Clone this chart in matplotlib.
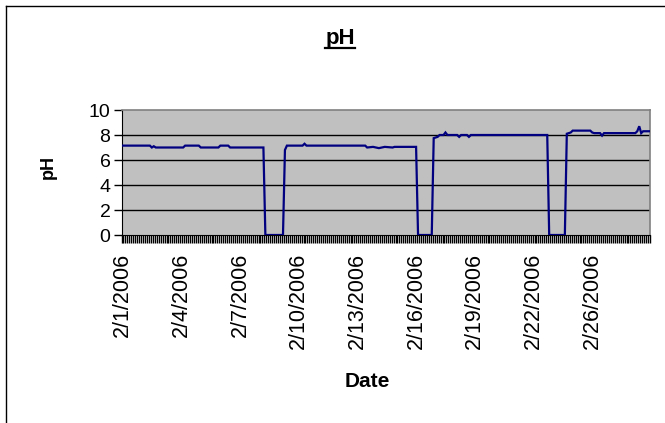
import matplotlib

matplotlib.use("Agg")
import matplotlib.pyplot as plt
from matplotlib.lines import Line2D

# sample index (category position on the date axis) and pH readings at the breakpoints
SAMPLE_IDX = [0, 14, 15, 16, 17, 31, 32, 39, 40, 49, 50, 54, 55, 72, 73, 82, 83, 84,
              92, 93, 94, 124, 125, 128, 131, 134, 138, 139, 150, 151, 158, 159, 161,
              162, 164, 165, 166, 171, 172, 173, 176, 177, 178, 217, 218, 226, 227,
              229, 230, 239, 240, 241, 244, 245, 246, 262, 263, 264, 265, 266, 269]
PH = [7.15, 7.15, 7.0, 7.1, 7.0, 7.0, 7.15, 7.15, 7.0, 7.0, 7.15, 7.15, 7.0, 7.0, 0.0,
      0.0, 6.8, 7.15, 7.15, 7.3, 7.15, 7.15, 7.0, 7.05, 6.95, 7.05, 7.0, 7.05, 7.05,
      0.0, 0.0, 7.75, 7.85, 8.0, 8.0, 8.2, 8.0, 8.0, 7.85, 8.0, 8.0, 7.85, 8.0, 8.0,
      0.0, 0.0, 8.1, 8.2, 8.35, 8.35, 8.2, 8.15, 8.15, 7.95, 8.15, 8.15, 8.3, 8.7,
      8.15, 8.3, 8.3]
N_SAMPLES = 270
LABEL_IDX = [0, 30, 60, 90, 120, 150, 180, 210, 240]
DATE_LABELS = ["2/1/2006", "2/4/2006", "2/7/2006", "2/10/2006", "2/13/2006",
               "2/16/2006", "2/19/2006", "2/22/2006", "2/26/2006"]
Y_TICKS = [0, 2, 4, 6, 8, 10]

plt.rcParams["font.family"] = ["Liberation Sans", "DejaVu Sans"]

W, H = 665, 423
fig = plt.figure(figsize=(W / 100, H / 100), dpi=100)
fig.patch.set_facecolor("white")

# outer chart frame (only left and top edges are visible)
fig.add_artist(Line2D([6 / W, 6 / W], [0, 1 - 6 / H], color="black", lw=1.0))
fig.add_artist(Line2D([6 / W, 1], [1 - 6 / H, 1 - 6 / H], color="black", lw=1.0))

left, right, top, bottom = 121.5, 650, 110, 235
ax = fig.add_axes([left / W, 1 - bottom / H, (right - left) / W, (bottom - top) / H])
ax.set_facecolor("#C0C0C0")

ax.plot(SAMPLE_IDX, PH, color="#000080", lw=1.6, solid_joinstyle="miter", zorder=3)

ax.set_xlim(-0.5, N_SAMPLES - 0.5)
ax.set_ylim(0, 10)
ax.set_yticks(Y_TICKS)
for y in Y_TICKS[1:-1]:
    ax.axhline(y, color="black", lw=1.0, zorder=1)

ax.set_xticks(LABEL_IDX)
ax.set_xticklabels(DATE_LABELS, rotation=90, fontsize=15.5)
ax.set_xticks([i + 0.5 for i in range(-1, N_SAMPLES)], minor=True)
ax.tick_params(axis="x", which="major", length=0, pad=13)
ax.tick_params(axis="x", which="minor", length=6, width=1.0, color="black")
ax.tick_params(axis="y", length=6, width=1.0, labelsize=14, pad=2)

for side in ("top", "right"):
    ax.spines[side].set_color("#808080")
    ax.spines[side].set_linewidth(1.2)
ax.spines["left"].set_color("black")
ax.spines["bottom"].set_color("black")

fig.text(48 / W, 1 - 167 / H, "pH", rotation=90, ha="center", va="center",
         fontsize=13, fontweight="bold")
fig.text(367 / W, 1 - 381 / H, "Date", ha="center", va="center",
         fontsize=15, fontweight="bold")
title = fig.text(340 / W, 1 - 44 / H, "pH", ha="center", va="baseline",
                 fontsize=16, fontweight="bold")

fig.canvas.draw()
bb = title.get_window_extent()
uy = 1 - 48 / H
fig.add_artist(Line2D([bb.x0 / W, bb.x1 / W], [uy, uy], color="black", lw=1.6))

fig.savefig("out.png", dpi=100)
